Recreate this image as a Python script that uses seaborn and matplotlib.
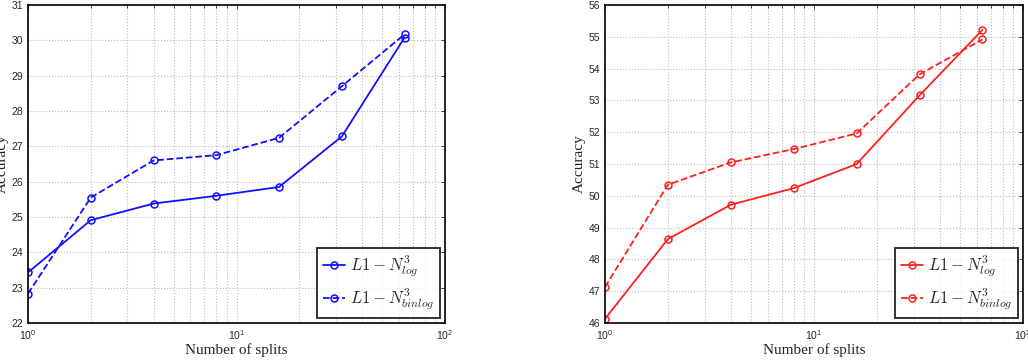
import numpy as np
import pandas as pd
import matplotlib
matplotlib.use('Agg')
import matplotlib.pyplot as plt
import seaborn as sns

# number of splits and accuracies
splits = [1, 2, 4, 8, 16, 32, 64]
left_log = [23.43, 24.91, 25.38, 25.60, 25.85, 27.28, 30.08]
left_binlog = [22.83, 25.55, 26.60, 26.75, 27.24, 28.70, 30.17]
right_log = [46.13, 48.64, 49.72, 50.24, 51.00, 53.16, 55.22]
right_binlog = [47.13, 50.35, 51.05, 51.47, 51.96, 53.82, 54.92]
labels = [r'$L1 - N^3_{log}$', r'$L1 - N^3_{binlog}$']

sns.set_style('white')
plt.rcParams['mathtext.fontset'] = 'cm'
plt.rcParams['font.family'] = ['Liberation Sans', 'DejaVu Sans']

fig = plt.figure(figsize=(10.28, 3.63), dpi=100)
ax1 = fig.add_axes([28/1028, 1 - 323/363, 417/1028, 318/363])
ax2 = fig.add_axes([605/1028, 1 - 323/363, 418/1028, 318/363])


def draw(ax, ylog, ybin, color, ylim):
    df = pd.DataFrame({'splits': splits, 'log': ylog, 'binlog': ybin})
    sns.lineplot(data=df, x='splits', y='log', ax=ax, color=color, marker='o',
                 markersize=5, markerfacecolor='none', markeredgecolor=color,
                 markeredgewidth=1.1, linewidth=1.3, label=labels[0])
    sns.lineplot(data=df, x='splits', y='binlog', ax=ax, color=color, marker='o',
                 markersize=5, markerfacecolor='none', markeredgecolor=color,
                 markeredgewidth=1.1, linewidth=1.3, linestyle='--',
                 dashes=(3, 2), label=labels[1])
    ax.set_xscale('log')
    ax.set_xlim(1, 100)
    ax.set_ylim(*ylim)
    ax.set_yticks(np.arange(ylim[0], ylim[1] + 1, 1))
    ax.grid(True, which='major', axis='both', linestyle=':', color='#bbbbbb', linewidth=0.8)
    ax.grid(True, which='minor', axis='x', linestyle=':', color='#bbbbbb', linewidth=0.8)
    ax.tick_params(which='both', direction='in', top=True, right=True, labelsize=7.5,
                   length=3, width=0.6)
    ax.tick_params(which='minor', length=2)
    for s in ax.spines.values():
        s.set_linewidth(1.2)
        s.set_color('black')
    ax.set_xlabel('Number of splits', family='Liberation Serif', fontsize=11, labelpad=1)
    ax.set_ylabel('Accuracy', family='Liberation Serif', fontsize=11, labelpad=2)
    leg = ax.legend(loc='lower right', fontsize=12, frameon=True, fancybox=False,
                    handlelength=1.3, handletextpad=0.3, borderpad=0.35,
                    labelspacing=0.45, borderaxespad=0.3)
    leg.get_frame().set_edgecolor('black')
    leg.get_frame().set_linewidth(1.4)


draw(ax1, left_log, left_binlog, '#1010ff', (22, 31))
draw(ax2, right_log, right_binlog, '#ff2020', (46, 56))

fig.savefig('out.png', dpi=100)
